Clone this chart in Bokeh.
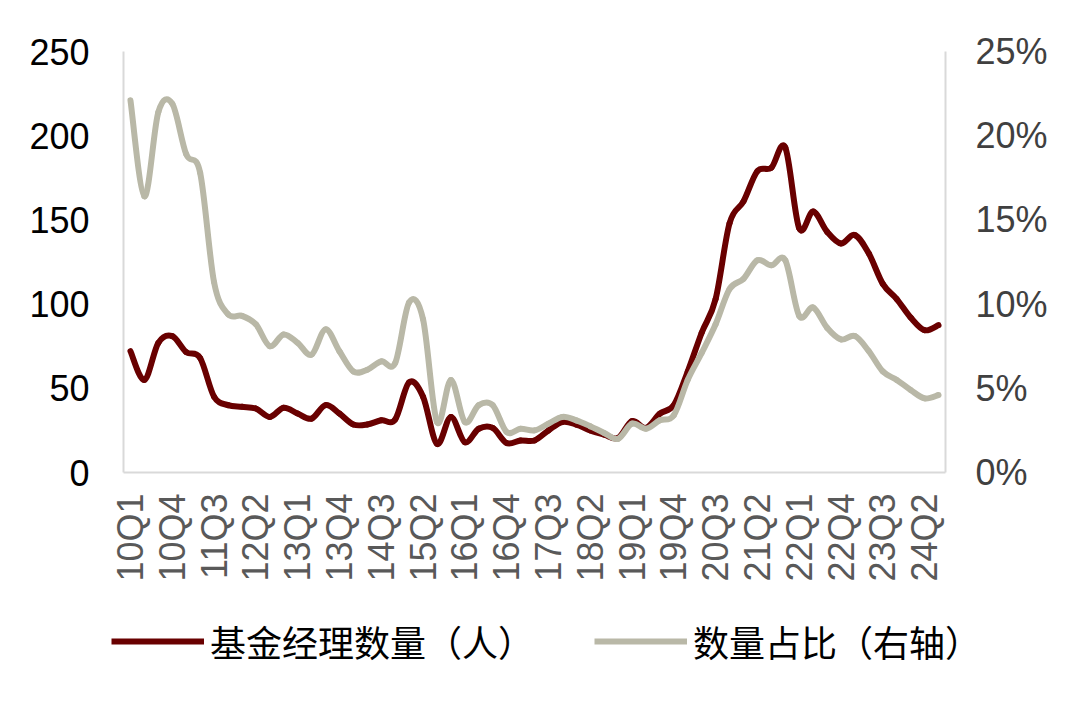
import numpy as np
from bokeh.plotting import figure
from bokeh.models import (Range1d, LinearAxis, FixedTicker, PrintfTickFormatter,
                          Legend, LegendItem, ColumnDataSource)
from bokeh.embed import file_html
from bokeh.resources import INLINE

quarters = ["10Q1", "10Q2", "10Q3", "10Q4", "11Q1", "11Q2", "11Q3", "11Q4",
            "12Q1", "12Q2", "12Q3", "12Q4", "13Q1", "13Q2", "13Q3", "13Q4",
            "14Q1", "14Q2", "14Q3", "14Q4", "15Q1", "15Q2", "15Q3", "15Q4",
            "16Q1", "16Q2", "16Q3", "16Q4", "17Q1", "17Q2", "17Q3", "17Q4",
            "18Q1", "18Q2", "18Q3", "18Q4", "19Q1", "19Q2", "19Q3", "19Q4",
            "20Q1", "20Q2", "20Q3", "20Q4", "21Q1", "21Q2", "21Q3", "21Q4",
            "22Q1", "22Q2", "22Q3", "22Q4", "23Q1", "23Q2", "23Q3", "23Q4",
            "24Q1", "24Q2", "24Q3"]

manager_count = [72, 55, 77, 81, 71.5, 68, 45, 40, 39, 38,
                 33, 38.5, 35, 32, 40, 35, 28.5, 28.5, 31, 31.5,
                 53.5, 45, 17, 33, 18, 26, 26.5, 17.5, 19, 19,
                 25, 30, 28.5, 25, 22.5, 20.5, 30.5, 26.5, 35, 40,
                 60, 83, 103, 148, 161, 179, 181, 193, 145, 155,
                 143, 136, 141, 130, 112, 103, 92, 84.5, 87.5]

share_pct = [22.1, 16.4, 21.4, 21.9, 18.9, 17.8, 11.3, 9.4, 9.3, 8.8,
             7.5, 8.2, 7.7, 7.0, 8.5, 7.2, 6.0, 6.1, 6.6, 6.5,
             10.1, 9.1, 3.0, 5.5, 3.0, 4.0, 4.0, 2.4, 2.6, 2.5,
             2.9, 3.3, 3.1, 2.75, 2.35, 2.0, 2.9, 2.6, 3.1, 3.4,
             5.5, 7.1, 8.8, 10.9, 11.5, 12.6, 12.3, 12.6, 9.3, 9.8,
             8.6, 7.9, 8.1, 7.2, 6.0, 5.5, 4.9, 4.4, 4.6]

left_ticks = [0, 50, 100, 150, 200, 250]
right_ticks = [0, 5, 10, 15, 20, 25]
label_step = 3

series_names = ["基金经理数量（人）", "数量占比（右轴）"]

RED = "#690000"
GRAY = "#B9B8A7"
AXIS = "#D9D9D9"
NUM_FONT = "Liberation Sans"
CJK_FONT = "Noto Sans CJK SC"
LW = 6


def smooth_segments(xs, ys):
    """Cubic Bezier segments through the data points (Excel-style smoothed line)."""
    xs = np.asarray(xs, float)
    ys = np.asarray(ys, float)
    n = len(xs)
    xp = np.concatenate([[xs[0]], xs, [xs[-1]]])
    yp = np.concatenate([[ys[0]], ys, [ys[-1]]])
    seg = dict(x0=[], y0=[], x1=[], y1=[], cx0=[], cy0=[], cx1=[], cy1=[])
    for i in range(n - 1):
        p0x, p0y = xp[i], yp[i]
        p1x, p1y = xp[i + 1], yp[i + 1]
        p2x, p2y = xp[i + 2], yp[i + 2]
        p3x, p3y = xp[i + 3], yp[i + 3]
        seg["x0"].append(p1x); seg["y0"].append(p1y)
        seg["x1"].append(p2x); seg["y1"].append(p2y)
        seg["cx0"].append(p1x + (p2x - p0x) / 6.0)
        seg["cy0"].append(p1y + (p2y - p0y) / 6.0)
        seg["cx1"].append(p2x - (p3x - p1x) / 6.0)
        seg["cy1"].append(p2y - (p3y - p1y) / 6.0)
    return ColumnDataSource(seg)


x_idx = list(range(len(quarters)))
count_src = smooth_segments(x_idx, manager_count)
share_src = smooth_segments(x_idx, share_pct)

p = figure(width=1080, height=600, output_backend="svg", toolbar_location=None,
           x_range=Range1d(-0.5, len(quarters) - 0.5), y_range=Range1d(0, 250),
           min_border_left=123, min_border_right=135, min_border_top=51,
           min_border_bottom=128, outline_line_color=None,
           background_fill_color="white", border_fill_color="white")
p.xgrid.visible = False
p.ygrid.visible = False

p.extra_y_ranges = {"pct": Range1d(0, 25)}

# x axis
xa = p.xaxis[0]
tick_idx = list(range(0, len(quarters), label_step))
xa.ticker = FixedTicker(ticks=tick_idx)
xa.major_label_overrides = {i: quarters[i] for i in tick_idx}
xa.major_label_orientation = np.pi / 2
xa.major_tick_line_color = None
xa.minor_tick_line_color = None
xa.axis_line_color = AXIS
xa.axis_line_width = 2
xa.major_label_standoff = 15
xa.major_label_text_font = NUM_FONT
xa.major_label_text_font_size = "36px"
xa.major_label_text_color = "#595959"

# left axis
ya = p.yaxis[0]
ya.ticker = FixedTicker(ticks=left_ticks)
ya.major_tick_line_color = None
ya.minor_tick_line_color = None
ya.axis_line_color = AXIS
ya.axis_line_width = 2
ya.major_label_standoff = 28
ya.major_label_text_font = NUM_FONT
ya.major_label_text_font_size = "36px"
ya.major_label_text_color = "#000000"

# right axis
ra = LinearAxis(y_range_name="pct", ticker=FixedTicker(ticks=right_ticks),
                formatter=PrintfTickFormatter(format="%d%%"))
ra.major_tick_line_color = None
ra.minor_tick_line_color = None
ra.axis_line_color = AXIS
ra.axis_line_width = 2
ra.major_label_standoff = 24
ra.major_label_text_font = NUM_FONT
ra.major_label_text_font_size = "36px"
ra.major_label_text_color = "#404040"
p.add_layout(ra, "right")

p.bezier(x0="x0", y0="y0", x1="x1", y1="y1", cx0="cx0", cy0="cy0",
         cx1="cx1", cy1="cy1", source=count_src, line_color=RED,
         line_width=LW, line_cap="round")
p.bezier(x0="x0", y0="y0", x1="x1", y1="y1", cx0="cx0", cy0="cy0",
         cx1="cx1", cy1="cy1", source=share_src, y_range_name="pct",
         line_color=GRAY, line_width=LW, line_cap="round")

# legend strip under the chart (separate root, full-width frame)
lg = figure(width=1080, height=108, output_backend="svg", toolbar_location=None,
            x_range=Range1d(0, 1), y_range=Range1d(0, 1), min_border=0,
            x_axis_type=None, y_axis_type=None,
            outline_line_color=None, background_fill_color="white",
            border_fill_color="white")
lg.xgrid.visible = False
lg.ygrid.visible = False
k1 = lg.line(x=[np.nan], y=[np.nan], line_color=RED, line_width=LW)
k2 = lg.line(x=[np.nan], y=[np.nan], line_color=GRAY, line_width=LW)
legend = Legend(items=[LegendItem(label=series_names[0], renderers=[k1]),
                       LegendItem(label=series_names[1], renderers=[k2])],
                orientation="horizontal", location=(111, 41),
                glyph_width=93, glyph_height=20, label_standoff=6, spacing=60,
                label_text_font=CJK_FONT, label_text_font_size="36px",
                label_text_color="#000000", border_line_color=None,
                background_fill_alpha=0, padding=0, margin=0)
lg.add_layout(legend, "center")

open("out.html", "w").write(file_html([p, lg], INLINE))
